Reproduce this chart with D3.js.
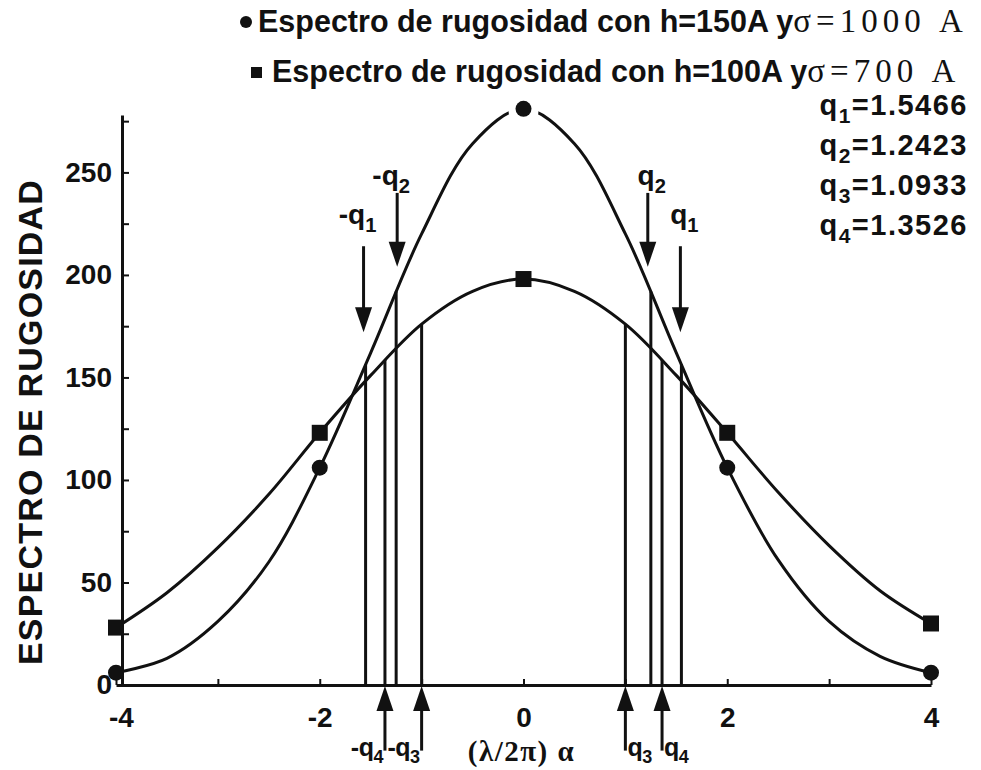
<!DOCTYPE html>
<html>
<head>
<meta charset="utf-8">
<script src="https://cdn.jsdelivr.net/npm/d3@7"></script>
<style>
  body { margin: 0; background: #fff; }
  text { font-family: "Liberation Sans", Arial, sans-serif; font-weight: bold; fill: #111; }
</style>
</head>
<body>
<div id="chart"></div>
<script>
const ancho = 981
const alto = 770

// datos
const alphaGrid = [-4, -3.5, -3, -2.5, -2, -1.5, -1, -0.5, 0, 0.5, 1, 1.5, 2, 2.5, 3, 3.5, 4]
const curvaH150 = [6, 13, 31, 60, 106, 162, 220, 264, 281, 264, 220, 162, 106, 61, 31, 14, 6]
const curvaH100 = [28, 45, 67, 93, 123, 151, 176, 192, 198, 192, 176, 151, 123, 94, 68, 46, 30]

const alphaPuntos = [-4, -2, 0, 2, 4]
const puntosH150 = [6, 106, 281, 106, 6]
const puntosH100 = [28, 123, 198, 123, 30]

const leyenda = ["Espectro de rugosidad con h=150A y", "Espectro de rugosidad con h=100A y"]
const leyendaSigma = ["\u03c3=1000 A", "\u03c3=700 A"]

const qSub = ["1", "2", "3", "4"]
const qValores = ["1.5466", "1.2423", "1.0933", "1.3526"]
const qLineas = [1.55, 1.25, 1.0, 1.36]          // donde se dibujaron las lineas verticales
const qCurva = ["h150", "h150", "h100", "h100"]  // curva donde termina cada linea

// flechas hacia abajo (q1, q2) y hacia arriba (q3, q4), en unidades de los ejes
const flechasAbajo = [
  {sub: "1", x: -1.57, cola: 214, punta: 172, texto: 225, signo: "-"},
  {sub: "2", x: -1.24, cola: 240, punta: 204, texto: 244, signo: "-"},
  {sub: "2", x: 1.22, cola: 240, punta: 204, texto: 244, signo: ""},
  {sub: "1", x: 1.54, cola: 214, punta: 172, texto: 225, signo: ""}
]
const flechasArriba = [
  {sub: "4", x: -1.36, cola: -32, punta: 0, signo: "-"},
  {sub: "3", x: -1.0, cola: -32, punta: 0, signo: "-"},
  {sub: "3", x: 1.0, cola: -32, punta: 0, signo: ""},
  {sub: "4", x: 1.36, cola: -32, punta: 0, signo: ""}
]

const ticksY = d3.range(0, 276, 25)
const ticksX = d3.range(-4, 5, 1)

const svg = d3.select("#chart").append("svg")
    .attr("width", ancho)
    .attr("height", alto)
svg.append("rect").attr("width", ancho).attr("height", alto).attr("fill", "#fff")

// escalas
const x = d3.scaleLinear().domain([-4, 4]).range([116, 931])
const y = d3.scaleLinear().domain([0, 278]).range([685, 115])

// ejes
const ejeX = d3.axisBottom(x).tickValues(ticksX)
    .tickSize(-6).tickSizeOuter(0).tickPadding(22)
    .tickFormat(d => d % 2 === 0 ? String(d) : "")
const ejeY = d3.axisLeft(y).tickValues(ticksY)
    .tickSize(-7).tickSizeOuter(0).tickPadding(10)
    .tickFormat(d => d % 50 === 0 ? String(d) : "")

const grupoX = svg.append("g").attr("transform", `translate(0,${y(0)})`).call(ejeX)
const grupoY = svg.append("g").attr("transform", `translate(${x(-4) + 6},0)`).call(ejeY)
svg.selectAll(".domain").attr("stroke", "#111").attr("stroke-width", 3)
svg.selectAll(".tick line").attr("stroke", "#111").attr("stroke-width", 2)
svg.selectAll(".tick text").attr("font-size", 28).attr("fill", "#111")
    .style("font-family", '"Liberation Sans", Arial, sans-serif').style("font-weight", "bold")
grupoX.selectAll(".tick text").attr("dy", "0.71em")
grupoX.selectAll(".tick").filter(d => d === -4).select("text").attr("dx", 5)

// titulos de ejes
svg.append("text")
    .attr("transform", `translate(42,${422}) rotate(-90)`)
    .attr("text-anchor", "middle")
    .attr("font-size", 34)
    .attr("letter-spacing", 1.2)
    .text("ESPECTRO DE RUGOSIDAD")

svg.append("text")
    .attr("x", x(0) - 2).attr("y", 761)
    .attr("text-anchor", "middle")
    .attr("font-size", 29)
    .attr("letter-spacing", 1.5)
    .style("font-family", '"Liberation Serif", serif')
    .text("(\u03bb/2\u03c0) \u03b1")

// curvas
const linea = d3.line()
    .x(d => x(d[0]))
    .y(d => y(d[1]))
    .curve(d3.curveCatmullRom.alpha(0.5))

const pathH150 = svg.append("path")
    .datum(alphaGrid.map((a, i) => [a, curvaH150[i]]))
    .attr("d", linea)
    .attr("fill", "none").attr("stroke", "#111").attr("stroke-width", 3)
const pathH100 = svg.append("path")
    .datum(alphaGrid.map((a, i) => [a, curvaH100[i]]))
    .attr("d", linea)
    .attr("fill", "none").attr("stroke", "#111").attr("stroke-width", 3)

// busca el punto de la curva con la abscisa dada
function alturaEn(path, px) {
  const nodo = path.node()
  let lo = 0, hi = nodo.getTotalLength()
  for (let k = 0; k < 40; k++) {
    const mid = (lo + hi) / 2
    if (nodo.getPointAtLength(mid).x < px) lo = mid
    else hi = mid
  }
  return nodo.getPointAtLength(lo).y
}

// lineas verticales en +-q
const lineas = []
qLineas.forEach((q, i) => {
  const p = qCurva[i] === "h150" ? pathH150 : pathH100
  ;[-q, q].forEach(v => lineas.push({px: x(v), top: alturaEn(p, x(v))}))
})
svg.append("g").selectAll("line").data(lineas).join("line")
    .attr("x1", d => d.px).attr("x2", d => d.px)
    .attr("y1", y(0)).attr("y2", d => d.top)
    .attr("stroke", "#111").attr("stroke-width", 3)

// marcadores (el maximo lleva un hueco blanco alrededor, como en el original)
const datosH150 = alphaPuntos.map((a, i) => [a, puntosH150[i]])
const maxH150 = d3.max(puntosH150)
svg.append("g").selectAll("circle")
    .data(datosH150.filter(d => d[1] === maxH150))
    .join("circle")
    .attr("cx", d => x(d[0])).attr("cy", d => y(d[1]) + 2)
    .attr("r", 15).attr("fill", "#fff")
svg.append("g").selectAll("circle")
    .data(datosH150)
    .join("circle")
    .attr("cx", d => x(d[0])).attr("cy", d => y(d[1]))
    .attr("r", 8).attr("fill", "#111")
svg.append("g").selectAll("rect")
    .data(alphaPuntos.map((a, i) => [a, puntosH100[i]]))
    .join("rect")
    .attr("x", d => x(d[0]) - 8).attr("y", d => y(d[1]) - 8)
    .attr("width", 16).attr("height", 16).attr("fill", "#111")

// flechas
function cabeza(px, py, dir) {
  // dir = 1 apunta hacia abajo, -1 hacia arriba
  return `M${px},${py} L${px - 8.5},${py - dir * 25} L${px + 8.5},${py - dir * 25} Z`
}
function etiquetaQ(sel, signo, sub, tam) {
  sel.append("tspan").text(signo + "q")
  sel.append("tspan").attr("font-size", tam * 0.72).attr("dy", tam * 0.28).text(sub)
}

const gAbajo = svg.append("g")
flechasAbajo.forEach(f => {
  const px = x(f.x)
  gAbajo.append("line")
      .attr("x1", px).attr("x2", px)
      .attr("y1", y(f.cola)).attr("y2", y(f.punta) - 20)
      .attr("stroke", "#111").attr("stroke-width", 3)
  gAbajo.append("path").attr("d", cabeza(px, y(f.punta), 1)).attr("fill", "#111")
  const t = gAbajo.append("text")
      .attr("x", px + (f.signo ? -6 : 4)).attr("y", y(f.texto))
      .attr("text-anchor", "middle").attr("font-size", 28)
  etiquetaQ(t, f.signo, f.sub, 28)
})

const gArriba = svg.append("g")
flechasArriba.forEach(f => {
  const px = x(f.x)
  gArriba.append("line")
      .attr("x1", px).attr("x2", px)
      .attr("y1", y(f.cola)).attr("y2", y(f.punta) + 20)
      .attr("stroke", "#111").attr("stroke-width", 3)
  gArriba.append("path").attr("d", cabeza(px, y(f.punta) + 1, -1)).attr("fill", "#111")
  const t = gArriba.append("text")
      .attr("x", f.signo ? px - 2 : px + 2).attr("y", 756)
      .attr("text-anchor", f.signo ? "end" : "start").attr("font-size", 25)
      .attr("letter-spacing", -0.5)
  etiquetaQ(t, f.signo, f.sub, 25)
})

// leyenda
const gLeyenda = svg.append("g")
leyenda.forEach((txt, i) => {
  const yy = 22 + i * 50
  if (i === 0) {
    gLeyenda.append("circle").attr("cx", 246).attr("cy", yy).attr("r", 6).attr("fill", "#111")
  } else {
    gLeyenda.append("rect").attr("x", 251).attr("y", yy - 5).attr("width", 11).attr("height", 11).attr("fill", "#111")
  }
  const t = gLeyenda.append("text")
      .attr("x", i === 0 ? 258 : 272).attr("y", yy + 10)
      .attr("font-size", 30.5)
  t.append("tspan").text(txt)
  t.append("tspan")
      .style("font-family", '"Liberation Serif", serif')
      .style("font-weight", "normal")
      .attr("font-size", 33)
      .attr("letter-spacing", 5)
      .text(leyendaSigma[i])
})

// valores de q
const gQ = svg.append("g")
qValores.forEach((v, i) => {
  const t = gQ.append("text")
      .attr("x", 968).attr("y", 115 + i * 40)
      .attr("text-anchor", "end")
      .attr("font-size", 29)
      .attr("letter-spacing", 1.5)
  t.append("tspan").text("q")
  t.append("tspan").attr("font-size", 21).attr("dy", 8).text(qSub[i])
  t.append("tspan").attr("dy", -8).text("=" + v)
})
</script>
</body>
</html>
